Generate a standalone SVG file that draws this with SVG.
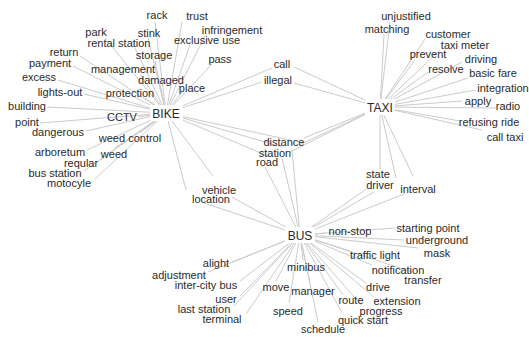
<svg xmlns="http://www.w3.org/2000/svg" width="529" height="337" viewBox="0 0 529 337">
<style>
.e line{stroke:#cbcbcb;stroke-width:1;fill:none}
text{font-family:"Liberation Sans",Arial,sans-serif;fill:#2a2a2a;text-anchor:middle}
.w text{font-size:11px}
.h text{font-size:12px}
.h rect{fill:#ffffff}
</style>
<rect width="529" height="337" fill="#ffffff"/>
<g id="edges" class="e">
<!-- BIKE -->
<line x1="166" y1="113" x2="155" y2="22"/>
<line x1="166" y1="113" x2="182" y2="22"/>
<line x1="166" y1="113" x2="105" y2="38"/>
<line x1="166" y1="113" x2="148" y2="38"/>
<line x1="166" y1="113" x2="205" y2="36"/>
<line x1="166" y1="113" x2="135" y2="48"/>
<line x1="166" y1="113" x2="190" y2="45"/>
<line x1="166" y1="113" x2="80" y2="56"/>
<line x1="166" y1="113" x2="155" y2="61"/>
<line x1="166" y1="113" x2="73" y2="66"/>
<line x1="166" y1="113" x2="212" y2="64"/>
<line x1="166" y1="113" x2="140" y2="74"/>
<line x1="166" y1="113" x2="58" y2="80"/>
<line x1="166" y1="113" x2="160" y2="86"/>
<line x1="166" y1="113" x2="182" y2="92"/>
<line x1="166" y1="113" x2="84" y2="94"/>
<line x1="166" y1="113" x2="145" y2="98"/>
<line x1="166" y1="113" x2="48" y2="107"/>
<line x1="166" y1="113" x2="138" y2="117"/>
<line x1="166" y1="113" x2="40" y2="123"/>
<line x1="166" y1="113" x2="86" y2="131"/>
<line x1="166" y1="113" x2="140" y2="133"/>
<line x1="166" y1="113" x2="87" y2="150"/>
<line x1="166" y1="113" x2="115" y2="148"/>
<line x1="166" y1="113" x2="100" y2="160"/>
<line x1="166" y1="113" x2="84" y2="171"/>
<line x1="166" y1="113" x2="95" y2="179"/>
<line x1="166" y1="113" x2="272" y2="68"/>
<line x1="166" y1="113" x2="262" y2="82"/>
<line x1="166" y1="113" x2="290" y2="140"/>
<line x1="166" y1="113" x2="282" y2="147"/>
<line x1="166" y1="113" x2="268" y2="156"/>
<line x1="166" y1="113" x2="213" y2="176"/>
<line x1="166" y1="113" x2="186" y2="190"/>
<!-- TAXI -->
<line x1="380" y1="107" x2="390" y2="22"/>
<line x1="380" y1="107" x2="384" y2="35"/>
<line x1="380" y1="107" x2="425" y2="39"/>
<line x1="380" y1="107" x2="440" y2="50"/>
<line x1="380" y1="107" x2="415" y2="60"/>
<line x1="380" y1="107" x2="462" y2="62"/>
<line x1="380" y1="107" x2="428" y2="72"/>
<line x1="380" y1="107" x2="468" y2="78"/>
<line x1="380" y1="107" x2="476" y2="90"/>
<line x1="380" y1="107" x2="462" y2="101"/>
<line x1="380" y1="107" x2="496" y2="108"/>
<line x1="380" y1="107" x2="460" y2="121"/>
<line x1="380" y1="107" x2="482" y2="130"/>
<line x1="380" y1="107" x2="294" y2="67"/>
<line x1="380" y1="107" x2="294" y2="83"/>
<line x1="380" y1="107" x2="304" y2="138"/>
<line x1="380" y1="107" x2="297" y2="146"/>
<line x1="380" y1="107" x2="290" y2="152"/>
<line x1="380" y1="107" x2="380" y2="169"/>
<line x1="380" y1="107" x2="396" y2="178"/>
<line x1="380" y1="107" x2="413" y2="176"/>
<!-- BUS -->
<line x1="300" y1="235" x2="326" y2="233"/>
<line x1="300" y1="235" x2="395" y2="228"/>
<line x1="300" y1="235" x2="404" y2="240"/>
<line x1="300" y1="235" x2="418" y2="248"/>
<line x1="300" y1="235" x2="350" y2="251"/>
<line x1="300" y1="235" x2="372" y2="265"/>
<line x1="300" y1="235" x2="412" y2="272"/>
<line x1="300" y1="235" x2="366" y2="283"/>
<line x1="300" y1="235" x2="343" y2="295"/>
<line x1="300" y1="235" x2="374" y2="297"/>
<line x1="300" y1="235" x2="362" y2="306"/>
<line x1="300" y1="235" x2="342" y2="313"/>
<line x1="300" y1="235" x2="318" y2="322"/>
<line x1="300" y1="235" x2="310" y2="284"/>
<line x1="300" y1="235" x2="303" y2="260"/>
<line x1="300" y1="235" x2="289" y2="303"/>
<line x1="300" y1="235" x2="276" y2="281"/>
<line x1="300" y1="235" x2="246" y2="314"/>
<line x1="300" y1="235" x2="234" y2="306"/>
<line x1="300" y1="235" x2="240" y2="296"/>
<line x1="300" y1="235" x2="240" y2="281"/>
<line x1="300" y1="235" x2="208" y2="272"/>
<line x1="300" y1="235" x2="232" y2="262"/>
<line x1="300" y1="235" x2="232" y2="197"/>
<line x1="300" y1="235" x2="204" y2="203"/>
<line x1="300" y1="235" x2="292" y2="150"/>
<line x1="300" y1="235" x2="282" y2="158"/>
<line x1="300" y1="235" x2="265" y2="167"/>
<line x1="300" y1="235" x2="368" y2="188"/>
<line x1="300" y1="235" x2="374" y2="192"/>
<line x1="300" y1="235" x2="404" y2="194"/>
</g>
<!-- hubs -->
<g id="node-bike" class="h"><rect x="150" y="105" width="33" height="16"/><text x="166" y="117.5">BIKE</text></g>
<g id="node-taxi" class="h"><rect x="365" y="99" width="30" height="16"/><text x="380" y="111.5">TAXI</text></g>
<g id="node-bus" class="h"><rect x="285" y="227" width="30" height="16"/><text x="300" y="239.5">BUS</text></g>
<!-- BIKE words -->
<g id="node-rack" class="w"><text x="157" y="19">rack</text></g>
<g id="node-trust" class="w"><text x="197" y="20">trust</text></g>
<g id="node-park" class="w"><text x="96" y="36">park</text></g>
<g id="node-stink" class="w"><text x="149" y="37">stink</text></g>
<g id="node-infringement" class="w"><text x="232" y="34">infringement</text></g>
<g id="node-rental-station" class="w"><text x="119" y="47">rental station</text></g>
<g id="node-exclusive-use" class="w"><text x="207" y="44">exclusive use</text></g>
<g id="node-return" class="w"><text x="64" y="56">return</text></g>
<g id="node-storage" class="w"><text x="154" y="59">storage</text></g>
<g id="node-payment" class="w"><text x="50" y="67">payment</text></g>
<g id="node-pass" class="w"><text x="220" y="63">pass</text></g>
<g id="node-management" class="w"><text x="123" y="73">management</text></g>
<g id="node-excess" class="w"><text x="39" y="81">excess</text></g>
<g id="node-damaged" class="w"><text x="161" y="84">damaged</text></g>
<g id="node-place" class="w"><text x="192" y="92">place</text></g>
<g id="node-lights-out" class="w"><text x="60" y="96">lights-out</text></g>
<g id="node-protection" class="w"><text x="130" y="97">protection</text></g>
<g id="node-building" class="w"><text x="27" y="110">building</text></g>
<g id="node-cctv" class="w"><text x="122" y="121">CCTV</text></g>
<g id="node-point" class="w"><text x="27" y="126">point</text></g>
<g id="node-dangerous" class="w"><text x="58" y="136">dangerous</text></g>
<g id="node-weed-control" class="w"><text x="130" y="142">weed control</text></g>
<g id="node-arboretum" class="w"><text x="60" y="156">arboretum</text></g>
<g id="node-weed" class="w"><text x="114" y="158">weed</text></g>
<g id="node-reqular" class="w"><text x="81" y="167">reqular</text></g>
<g id="node-bus-station" class="w"><text x="55" y="177">bus station</text></g>
<g id="node-motocyle" class="w"><text x="69" y="187">motocyle</text></g>
<!-- shared words -->
<g id="node-call" class="w"><text x="282" y="68">call</text></g>
<g id="node-illegal" class="w"><text x="278" y="84">illegal</text></g>
<g id="node-distance" class="w"><text x="284" y="146">distance</text></g>
<g id="node-station" class="w"><text x="275" y="157">station</text></g>
<g id="node-road" class="w"><text x="267" y="166">road</text></g>
<g id="node-vehicle" class="w"><text x="219" y="194">vehicle</text></g>
<g id="node-location" class="w"><text x="211" y="203">location</text></g>
<g id="node-state" class="w"><text x="378" y="178">state</text></g>
<g id="node-driver" class="w"><text x="380" y="188.5">driver</text></g>
<g id="node-interval" class="w"><text x="418" y="193">interval</text></g>
<!-- TAXI words -->
<g id="node-unjustified" class="w"><text x="406" y="20">unjustified</text></g>
<g id="node-matching" class="w"><text x="387" y="33">matching</text></g>
<g id="node-customer" class="w"><text x="448" y="38">customer</text></g>
<g id="node-taxi-meter" class="w"><text x="465" y="49">taxi meter</text></g>
<g id="node-prevent" class="w"><text x="428" y="58">prevent</text></g>
<g id="node-driving" class="w"><text x="481" y="63">driving</text></g>
<g id="node-resolve" class="w"><text x="446" y="73">resolve</text></g>
<g id="node-basic-fare" class="w"><text x="493" y="77">basic fare</text></g>
<g id="node-integration" class="w"><text x="503" y="92">integration</text></g>
<g id="node-apply" class="w"><text x="478" y="105">apply</text></g>
<g id="node-radio" class="w"><text x="508" y="110">radio</text></g>
<g id="node-refusing-ride" class="w"><text x="489" y="126">refusing ride</text></g>
<g id="node-call-taxi" class="w"><text x="505" y="141">call taxi</text></g>
<!-- BUS words -->
<g id="node-non-stop" class="w"><text x="350" y="235">non-stop</text></g>
<g id="node-starting-point" class="w"><text x="428" y="232">starting point</text></g>
<g id="node-underground" class="w"><text x="437" y="244">underground</text></g>
<g id="node-traffic-light" class="w"><text x="375" y="259">traffic light</text></g>
<g id="node-mask" class="w"><text x="437" y="257">mask</text></g>
<g id="node-notification" class="w"><text x="398" y="274">notification</text></g>
<g id="node-transfer" class="w"><text x="423" y="284">transfer</text></g>
<g id="node-drive" class="w"><text x="378" y="291">drive</text></g>
<g id="node-route" class="w"><text x="351" y="304">route</text></g>
<g id="node-extension" class="w"><text x="397" y="305">extension</text></g>
<g id="node-progress" class="w"><text x="381" y="315">progress</text></g>
<g id="node-quick-start" class="w"><text x="363" y="323.5">quick start</text></g>
<g id="node-schedule" class="w"><text x="323" y="333">schedule</text></g>
<g id="node-alight" class="w"><text x="216" y="267">alight</text></g>
<g id="node-minibus" class="w"><text x="306" y="271">minibus</text></g>
<g id="node-adjustment" class="w"><text x="179" y="279">adjustment</text></g>
<g id="node-inter-city-bus" class="w"><text x="206" y="289">inter-city bus</text></g>
<g id="node-move" class="w"><text x="276" y="291">move</text></g>
<g id="node-manager" class="w"><text x="313" y="295">manager</text></g>
<g id="node-user" class="w"><text x="226" y="303">user</text></g>
<g id="node-last-station" class="w"><text x="204" y="313">last station</text></g>
<g id="node-speed" class="w"><text x="288" y="315">speed</text></g>
<g id="node-terminal" class="w"><text x="222" y="323">terminal</text></g>
</svg>
